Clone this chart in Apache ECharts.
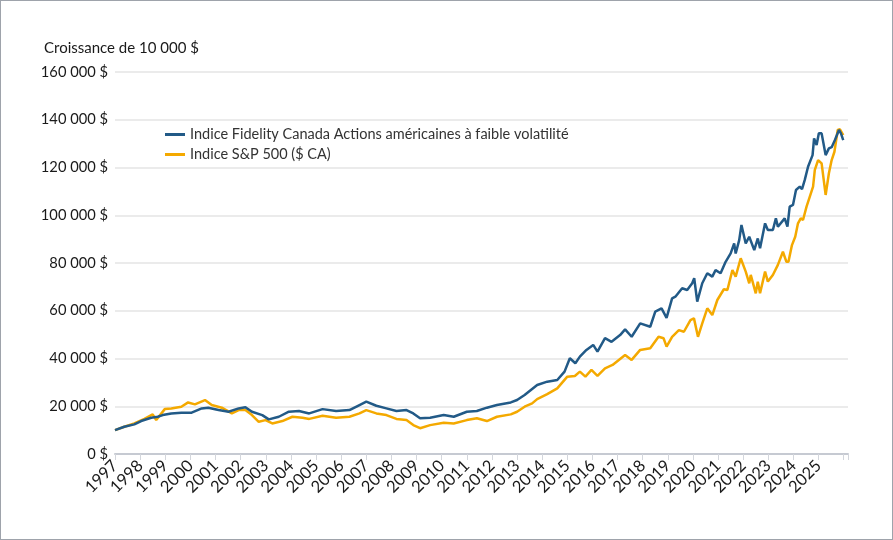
<!DOCTYPE html>
<html>
<head>
<meta charset="utf-8">
<script src="https://cdn.jsdelivr.net/npm/echarts@6/dist/echarts.min.js"></script>
<style>
  html, body { margin: 0; padding: 0; background: #fff; }
  #chart { width: 893px; height: 540px; box-sizing: border-box; border: 1px solid #9ea3ab; }
</style>
</head>
<body>
<div id="chart"></div>
<script>
// séries (année décimale, valeur en $)
const fidelityYears = [1997.0,1997.37,1997.77,1998.04,1998.44,1998.7,1998.9,1999.24,1999.64,2000.05,2000.45,2000.71,2001.12,2001.52,2001.92,2002.19,2002.45,2002.86,2003.12,2003.52,2003.92,2004.32,2004.73,2005.26,2005.8,2006.33,2006.73,2007.0,2007.4,2007.8,2008.2,2008.6,2008.87,2009.14,2009.54,2010.08,2010.48,2011.0,2011.4,2011.8,2012.2,2012.75,2013.0,2013.3,2013.8,2014.2,2014.6,2014.89,2015.1,2015.32,2015.5,2015.76,2016.03,2016.2,2016.5,2016.76,2017.1,2017.3,2017.56,2017.9,2018.3,2018.5,2018.75,2018.95,2019.17,2019.3,2019.57,2019.77,2019.97,2020.05,2020.17,2020.37,2020.57,2020.77,2020.9,2021.1,2021.3,2021.5,2021.64,2021.7,2021.84,2021.93,2022.1,2022.24,2022.44,2022.58,2022.67,2022.87,2022.98,2023.18,2023.3,2023.38,2023.65,2023.76,2023.85,2023.98,2024.1,2024.25,2024.34,2024.45,2024.58,2024.76,2024.82,2024.92,2025.01,2025.12,2025.28,2025.41,2025.52,2025.65,2025.81,2025.89,2025.98];
const fidelityValues = [10000,11400,12400,13800,15200,15600,16300,17000,17300,17300,19100,19400,18400,17700,19100,19600,17700,16300,14500,15600,17700,18000,17000,18800,18000,18400,20500,21900,20200,19100,18000,18400,17000,15000,15200,16300,15600,17700,18000,19400,20500,21600,22600,24700,28900,30300,31000,34500,40100,38000,40800,43600,45700,42900,48500,47000,49800,52200,49100,54700,53300,59600,61000,57000,65200,65900,69400,68700,71500,73600,63800,71500,75700,74300,77000,75700,80500,84000,88200,84000,89600,95900,88200,91000,85400,90300,86200,96600,93800,93800,98700,95200,98700,95200,103600,104300,110600,112000,110900,114800,120300,125200,132200,129400,134300,134300,125200,128000,128500,131500,135700,134300,131500];

const spYears = [1997.0,1997.37,1997.77,1998.17,1998.5,1998.64,1998.98,1999.24,1999.64,1999.91,2000.18,2000.58,2000.85,2001.25,2001.65,2001.92,2002.19,2002.45,2002.72,2002.99,2003.26,2003.66,2004.06,2004.46,2004.73,2005.26,2005.8,2006.33,2006.73,2007.0,2007.4,2007.8,2008.2,2008.6,2008.87,2009.14,2009.54,2010.08,2010.48,2011.0,2011.4,2011.8,2012.2,2012.75,2013.0,2013.3,2013.6,2013.8,2014.2,2014.6,2015.0,2015.3,2015.5,2015.72,2015.96,2016.2,2016.5,2016.8,2017.3,2017.56,2017.9,2018.3,2018.63,2018.83,2018.95,2019.17,2019.44,2019.64,2019.9,2020.04,2020.2,2020.37,2020.57,2020.77,2020.97,2021.23,2021.37,2021.57,2021.7,2021.9,2022.1,2022.24,2022.3,2022.5,2022.58,2022.67,2022.87,2022.98,2023.18,2023.38,2023.58,2023.72,2023.8,2023.94,2024.07,2024.18,2024.29,2024.38,2024.52,2024.65,2024.78,2024.85,2024.98,2025.12,2025.28,2025.41,2025.52,2025.63,2025.76,2025.85,2025.98];
const spValues = [10000,11400,12800,14700,16600,14200,18800,19100,19800,21600,20800,22600,20500,19400,17000,18400,18400,16300,13500,14200,12800,13800,15600,15200,14700,16000,15200,15600,17000,18400,17000,16300,14700,14200,12100,10800,12100,13100,12800,14200,15000,13800,15600,16600,17700,19800,21200,23000,25100,27500,32400,32700,34500,32400,35200,32700,35900,37300,41500,39400,43600,44300,49100,48500,45000,49100,51900,51200,56100,56800,49100,54700,61000,58200,64500,69000,68700,77000,74300,82000,76400,71500,75000,67300,72200,67300,76400,72200,75000,79200,84700,80500,80500,87500,91000,96600,98700,98000,103600,107800,112000,119000,123100,121700,108500,117600,123100,126600,135700,136000,133600];

const seriesNames = ['Indice Fidelity Canada Actions américaines à faible volatilité', 'Indice S&P 500 ($ CA)'];
const yTicks = [0, 20000, 40000, 60000, 80000, 100000, 120000, 140000, 160000];
const firstYear = 1997;
const lastYear = 2025;

const fmtMoney = v => String(v).replace(/\B(?=(\d{3})+(?!\d))/g, '\u00a0') + '\u00a0$';
const toPairs = (xs, ys) => xs.map((x, i) => [x, ys[i]]);

const chart = echarts.init(document.getElementById('chart'));
const font = 'Lato, "Noto Sans", sans-serif';

chart.setOption({
  animation: false,
  backgroundColor: '#fff',
  textStyle: { fontFamily: font },
  title: {
    text: 'Croissance de 10 000 $',
    left: 38, top: 35,
    textStyle: { fontFamily: font, fontSize: 15, fontWeight: 'normal', color: '#1a1a1a' }
  },
  legend: {
    orient: 'vertical',
    left: 159, top: 121,
    itemWidth: 20, itemHeight: 3, itemGap: 5,
    icon: 'rect',
    textStyle: { fontFamily: font, fontSize: 14.5, color: '#333' },
    data: seriesNames
  },
  grid: { left: 114, right: 44, top: 71, bottom: 85 },
  xAxis: {
    type: 'value',
    min: firstYear, max: 2026.17, interval: 1,
    axisLine: { lineStyle: { color: '#c6cad2', width: 2 } },
    axisTick: { show: true, length: 6, lineStyle: { color: '#d3d6dc' } },
    splitLine: { show: false },
    axisLabel: {
      rotate: 45, fontSize: 16.5, color: '#1a1a1a', margin: 9,
      fontFamily: font,
      formatter: v => (v <= lastYear ? String(v) : '')
    }
  },
  yAxis: {
    type: 'value',
    min: yTicks[0], max: yTicks[yTicks.length - 1], interval: 20000,
    axisLine: { show: false },
    axisTick: { show: false },
    splitLine: { lineStyle: { color: '#e4e4e4', width: 1.5 } },
    axisLabel: { fontSize: 14.7, color: '#1a1a1a', margin: 7, fontFamily: font, formatter: fmtMoney }
  },
  series: [
    {
      name: seriesNames[0], type: 'line', showSymbol: false, symbol: 'none',
      color: '#225a87',
      lineStyle: { width: 2.5, color: '#225a87' },
      data: toPairs(fidelityYears, fidelityValues),
      z: 3
    },
    {
      name: seriesNames[1], type: 'line', showSymbol: false, symbol: 'none',
      color: '#f4a900',
      lineStyle: { width: 2.5, color: '#f4a900' },
      data: toPairs(spYears, spValues),
      z: 2
    }
  ]
});
</script>
</body>
</html>
